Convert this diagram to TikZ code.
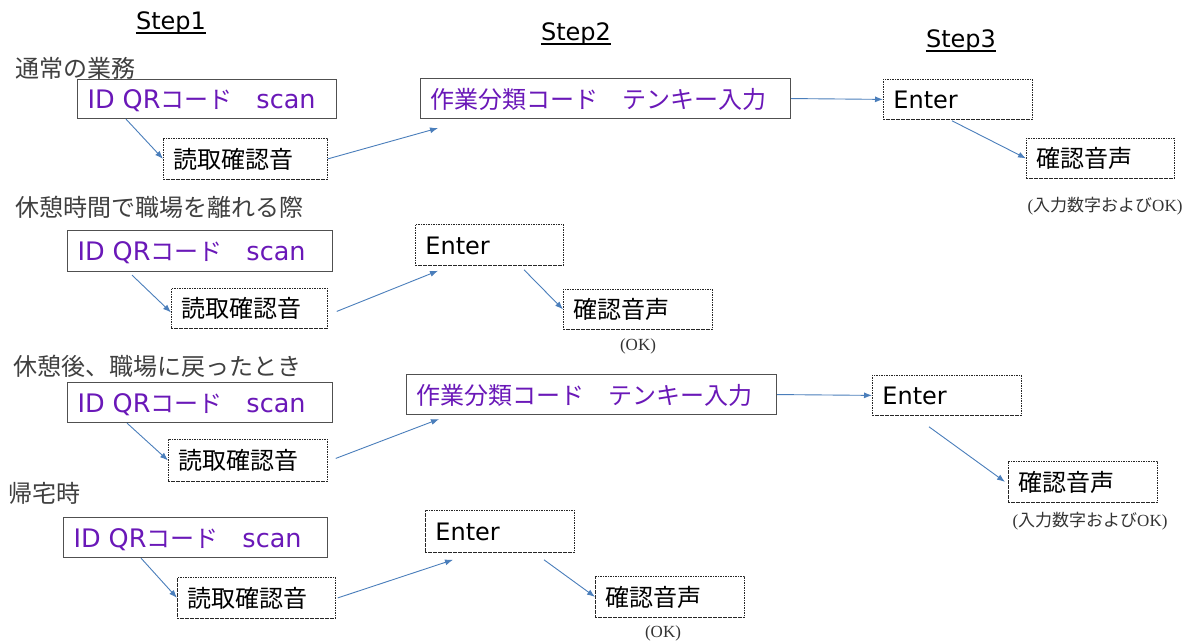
\documentclass[tikz,border=0pt]{standalone}
\usepackage{fontspec}
\setmainfont{DejaVu Sans}
\newfontfamily\jp{Noto Sans CJK JP}
\newfontfamily\nserif{Liberation Serif}
\usetikzlibrary{arrows.meta}
\definecolor{qrpurple}{HTML}{6A18B8}
\definecolor{arrowblue}{HTML}{4A7EBB}
\definecolor{boxgray}{HTML}{505050}
\definecolor{labelgray}{HTML}{404040}
\definecolor{notegray}{HTML}{333333}
\newcommand{\qrtext}{{\fontsize{25.5}{28}\selectfont ID QR}{\jp コード　}{\fontsize{25.5}{28}\selectfont scan}}
\newcommand{\inputnote}{{\nserif (}{\jp 入力数字および}{\nserif OK)}}
\begin{document}
\begin{tikzpicture}[x=1pt,y=-1pt,
  boxbase/.style={anchor=north west, inner xsep=10pt, inner ysep=0pt, align=left,
    font=\fontsize{24}{28}\selectfont, text height=23pt, text depth=4pt},
  solidbox/.style={boxbase, draw=boxgray, line width=1.1pt},
  dashbox/.style={boxbase, draw=black!85, line width=0.8pt, dash pattern=on 1.6pt off 0.9pt},
  purpletext/.style={text=qrpurple},
  conn/.style={draw=arrowblue, line width=0.9pt, -{Latex[length=8pt,width=6pt]}},
  rowlabel/.style={anchor=west, inner sep=0pt, text=labelgray, font=\jp\fontsize{24}{28}\selectfont},
  header/.style={anchor=base, inner sep=0pt, font=\fontsize{24}{28}\selectfont},
  note/.style={inner sep=0pt, text=notegray, font=\fontsize{17}{19}\selectfont}
]
\fill[white] (0,0) rectangle (1186,644);
\useasboundingbox (0,0) rectangle (1186,644);

% headers
\node[header] (h1) at (171,30) {Step1};
\node[header] (h2) at (576,41) {Step2};
\node[header] (h3) at (961,48) {Step3};
\foreach \h in {h1,h2,h3}{
  \draw[line width=1.3pt] ([yshift=-3pt]\h.base west) -- ([yshift=-3pt]\h.base east);
}

% row labels
\node[rowlabel] (l1) at (15,68) {通常の業務};
\node[rowlabel] (l2) at (15,207) {休憩時間で職場を離れる際};
\node[rowlabel] (l3) at (13,366) {休憩後、職場に戻ったとき};
\node[rowlabel] (l4) at (8,493) {帰宅時};

% row 1
\node[solidbox, purpletext, text width=239pt, minimum height=39pt] (a1) at (77,79) {\qrtext};
\node[dashbox, text width=144pt, minimum height=41pt] (r1) at (163,138) {\jp 読取確認音};
\node[solidbox, purpletext, text width=350pt, minimum height=40pt] (s1) at (420,78) {\jp 作業分類コード　テンキー入力};
\node[dashbox, text width=129pt, minimum height=40pt] (e1) at (883,79) {Enter};
\node[dashbox, text width=128pt, minimum height=40pt] (v1) at (1026,138) {\jp 確認音声};
\node[note] (n1) at (1105,206) {\inputnote};

\draw[conn] ([shift={(49,0)}]a1.south west) -- (r1.west);
\draw[conn] (r1.east) -- ([shift={(18,9)}]s1.south west);
\draw[conn] (s1.east) -- (e1.west);
\draw[conn] ([shift={(69,1)}]e1.south west) -- (v1.west);

% row 2
\node[solidbox, purpletext, text width=245pt, minimum height=41pt] (a2) at (67,230) {\qrtext};
\node[dashbox, text width=136pt, minimum height=40pt] (r2) at (171,288) {\jp 読取確認音};
\node[dashbox, text width=128pt, minimum height=41pt] (e2) at (415,224) {Enter};
\node[dashbox, text width=129pt, minimum height=40pt] (v2) at (563,289) {\jp 確認音声};
\node[note] (n2) at (638,346) {\nserif (OK)};

\draw[conn] ([shift={(65,3)}]a2.south west) -- ([shift={(0,4)}]r2.west);
\draw[conn] ([shift={(9,3)}]r2.east) -- ([shift={(23,5)}]e2.south west);
\draw[conn] ([shift={(109,4)}]e2.south west) -- (v2.west);

% row 3
\node[solidbox, purpletext, text width=245pt, minimum height=40pt] (a3) at (67,382) {\qrtext};
\node[dashbox, text width=139pt, minimum height=42pt] (r3) at (168,439) {\jp 読取確認音};
\node[solidbox, purpletext, text width=350pt, minimum height=40pt] (s3) at (406,374) {\jp 作業分類コード　テンキー入力};
\node[dashbox, text width=129pt, minimum height=40pt] (e3) at (872,375) {Enter};
\node[dashbox, text width=129pt, minimum height=41pt] (v3) at (1008,461) {\jp 確認音声};
\node[note] (n3) at (1090,521) {\inputnote};

\draw[conn] ([shift={(60,0)}]a3.south west) -- (r3.west);
\draw[conn] ([shift={(8,-2)}]r3.east) -- ([shift={(33,4)}]s3.south west);
\draw[conn] (s3.east) -- (e3.west);
\draw[conn] ([shift={(57,11)}]e3.south west) -- ([shift={(-3,0)}]v3.west);

% row 4
\node[solidbox, purpletext, text width=244pt, minimum height=40pt] (a4) at (63,517) {\qrtext};
\node[dashbox, text width=138pt, minimum height=41pt] (r4) at (177,577) {\jp 読取確認音};
\node[dashbox, text width=129pt, minimum height=42pt] (e4) at (425,510) {Enter};
\node[dashbox, text width=129pt, minimum height=41pt] (v4) at (595,576) {\jp 確認音声};
\node[note] (n4) at (663,633) {\nserif (OK)};

\draw[conn] ([shift={(78,0)}]a4.south west) -- (r4.west);
\draw[conn] ([shift={(2,0)}]r4.east) -- ([shift={(28,7)}]e4.south west);
\draw[conn] ([shift={(119,7)}]e4.south west) -- (v4.west);
\end{tikzpicture}
\end{document}
